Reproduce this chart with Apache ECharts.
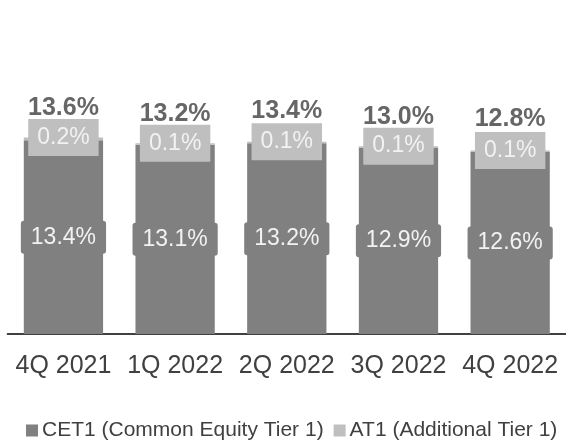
<!DOCTYPE html>
<html>
<head>
<meta charset="utf-8">
<script src="https://cdn.jsdelivr.net/npm/echarts@6/dist/echarts.min.js"></script>
<style>
  html, body { margin: 0; padding: 0; background: #ffffff; }
  #chart { width: 566px; height: 440px; }
</style>
</head>
<body>
<div id="chart"></div>
<script>
// Tier 1 capital ratio by quarter, split into CET1 and AT1 (in %)
const quarters = ['4Q 2021', '1Q 2022', '2Q 2022', '3Q 2022', '4Q 2022'];
const cet1 = [13.4, 13.1, 13.2, 12.9, 12.6];
const at1 = [0.2, 0.1, 0.1, 0.1, 0.1];
const tier1Total = [13.6, 13.2, 13.4, 13.0, 12.8];

const FONT = "'Liberation Sans', Arial, sans-serif";
const DARK = '#808080';
const LIGHT = '#bfbfbf';
const TEXT = '#404040';

const pct = p => p.value.toFixed(1) + '%';

const chart = echarts.init(document.getElementById('chart'), null, { renderer: 'canvas' });

chart.setOption({
  animation: false,
  backgroundColor: '#ffffff',
  textStyle: { fontFamily: FONT },
  grid: { left: 7.6, width: 563.8, top: 45, bottom: 106, containLabel: false },
  xAxis: {
    type: 'category',
    data: quarters,
    axisLine: { show: true, lineStyle: { color: TEXT, width: 2 } },
    axisTick: { show: false },
    axisLabel: { color: TEXT, fontSize: 25, fontFamily: FONT, margin: 20, interval: 0 }
  },
  yAxis: {
    type: 'value',
    min: 0,
    max: 20,
    show: false,
    splitLine: { show: false }
  },
  legend: {
    data: ['CET1 (Common Equity Tier 1)', 'AT1 (Additional Tier 1)'],
    left: 21,
    top: 415,
    icon: 'rect',
    itemWidth: 12,
    itemHeight: 12,
    itemGap: 10,
    textStyle: { color: TEXT, fontSize: 21, fontFamily: FONT, padding: [0, 0, 0, -1] }
  },
  series: [
    {
      name: 'CET1 (Common Equity Tier 1)',
      type: 'bar',
      stack: 'tier1',
      barWidth: '71%',
      data: cet1,
      itemStyle: { color: DARK },
      label: {
        show: true,
        position: 'inside',
        formatter: pct,
        color: '#f2f2f2',
        fontSize: 23,
        fontFamily: FONT,
        backgroundColor: DARK,
        padding: [5, 10],
        borderRadius: 3
      }
    },
    {
      name: 'AT1 (Additional Tier 1)',
      type: 'bar',
      stack: 'tier1',
      barWidth: '71%',
      data: at1,
      itemStyle: { color: LIGHT },
      label: {
        show: true,
        position: ['50%', 0],
        align: 'center',
        verticalAlign: 'middle',
        formatter: pct,
        color: '#f2f2f2',
        fontSize: 23,
        lineHeight: 27,
        fontFamily: FONT,
        backgroundColor: LIGHT,
        padding: [5, 9]
      }
    },
    {
      name: 'Tier 1',
      type: 'scatter',
      data: tier1Total,
      symbolSize: 0,
      silent: true,
      label: {
        show: true,
        position: 'top',
        distance: 17,
        formatter: pct,
        color: TEXT,
        fontSize: 25,
        fontWeight: 'bold',
        fontFamily: FONT
      }
    }
  ]
});
</script>
</body>
</html>
